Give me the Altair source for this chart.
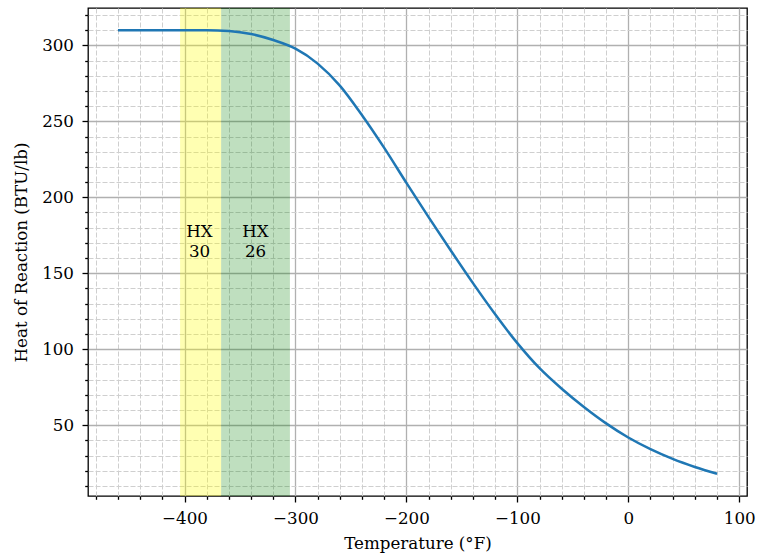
import altair as alt
import pandas as pd

# Curve: heat of reaction (BTU/lb) vs temperature (°F)
temps = [-460, -440, -420, -400, -380, -360, -340, -320, -300, -280, -260, -240,
         -220, -200, -180, -160, -140, -120, -100, -80, -60, -40, -20, 0, 20, 40, 60, 80]
heat = [310, 310, 310, 310, 310, 309.5, 307.5, 303.5, 297.8, 288, 273.5, 254,
        232.5, 209.5, 187, 165, 143.5, 123, 104, 87.5, 74, 62, 51.2, 41.9, 34.2, 27.8, 22.5, 18]

# Shaded heat-exchanger bands
band_start = [-404, -367]
band_end = [-367, -305]
band_colors = ["yellow", "green"]
band_alpha = [0.3, 0.25]

# Band labels
label_text = ["HX\n\u00a030", "HX\n\u00a026"]
label_x = [-386.5, -336]
label_y = [177, 177]

x_ticks = list(range(-480, 101, 20))
y_ticks = list(range(10, 321, 10))

FONT = "DejaVu Serif"
FS = 16.7

curve = pd.DataFrame({"T": temps, "H": heat})
bands = pd.DataFrame({"x1": band_start, "x2": band_end, "c": band_colors, "a": band_alpha})
labels = pd.DataFrame({"x": label_x, "y": label_y, "t": label_text})

xscale = alt.Scale(domain=[-487, 107], nice=False, zero=False)
yscale = alt.Scale(domain=[3.4, 324.6], nice=False, zero=False)


def cond(test, major, minor):
    return {"condition": {"test": test, "value": major}, "value": minor}


xmaj = "datum.value % 100 === 0"
ymaj = "datum.value % 50 === 0"

x_axis = alt.Axis(
    values=x_ticks,
    tickCount=1000,
    format="d",
    title="Temperature (°F)",
    labelExpr=f"{xmaj} ? datum.label : ''",
    labelFlush=False,
    labelOverlap=False,
    grid=True,
    gridColor=cond(xmaj, "#b0b0b0", "#cfcfcf"),
    gridDash=cond(xmaj, [], [5, 2]),
    gridWidth=cond(xmaj, 1.3, 1.0),
    tickSize=cond(xmaj, 6, 3.3),
    tickWidth=1.3,
    labelPadding=8,
    titlePadding=9,
)
y_axis = alt.Axis(
    values=y_ticks,
    tickCount=1000,
    format="d",
    title="Heat of Reaction (BTU/lb)",
    labelExpr=f"{ymaj} ? datum.label : ''",
    labelFlush=False,
    labelOverlap=False,
    grid=True,
    gridColor=cond(ymaj, "#b0b0b0", "#cfcfcf"),
    gridDash=cond(ymaj, [], [5, 2]),
    gridWidth=cond(ymaj, 1.3, 1.0),
    tickSize=cond(ymaj, 6, 3.3),
    tickWidth=1.3,
    labelPadding=8.5,
    titlePadding=11,
)

band_layer = alt.Chart(bands).mark_rect().encode(
    x=alt.X("x1:Q", scale=xscale, axis=x_axis),
    x2="x2:Q",
    color=alt.Color("c:N", scale=None),
    opacity=alt.Opacity("a:Q", scale=None),
)

line_layer = alt.Chart(curve).mark_line(
    color="#1f77b4", strokeWidth=2.5, interpolate="monotone"
).encode(
    x=alt.X("T:Q", scale=xscale, axis=x_axis),
    y=alt.Y("H:Q", scale=yscale, axis=y_axis),
)

text_layer = alt.Chart(labels).mark_text(
    font=FONT, fontSize=FS, lineBreak="\n", align="center", baseline="middle",
    lineHeight=20, color="black"
).encode(
    x=alt.X("x:Q", scale=xscale),
    y=alt.Y("y:Q", scale=yscale),
    text="t:N",
)

chart = (
    alt.layer(band_layer, line_layer, text_layer)
    .properties(
        width=659,
        height=488,
        autosize=alt.AutoSizeParams(type="none"),
        padding={"left": 88, "top": 8, "right": 10, "bottom": 61},
        background="white",
    )
    .configure_view(stroke="black", strokeWidth=1.3)
    .configure_axis(
        labelFont=FONT,
        titleFont=FONT,
        labelFontSize=FS,
        titleFontSize=FS,
        titleFontWeight="normal",
        labelColor="black",
        titleColor="black",
        tickColor="black",
        domain=False,
    )
)

chart.save("out.html", embed_options={"renderer": "svg", "actions": False})
